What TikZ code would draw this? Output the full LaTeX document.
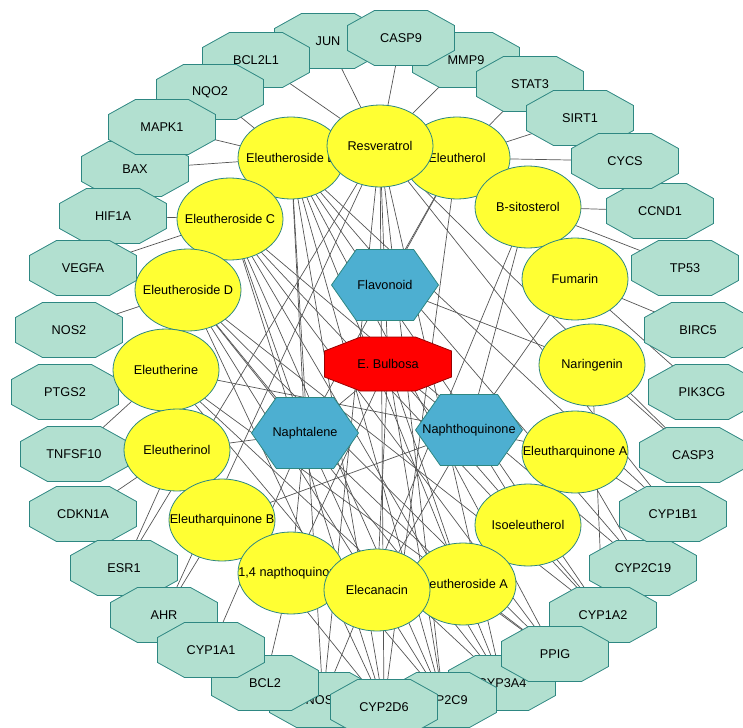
\documentclass[tikz,border=0pt]{standalone}
\usepackage{fontspec}
\setmainfont{Liberation Sans}
\usetikzlibrary{shapes.geometric, shapes.symbols, backgrounds}

\definecolor{targetfill}{RGB}{178,224,208}
\definecolor{outline}{RGB}{46,135,130}
\definecolor{compfill}{RGB}{255,255,51}
\definecolor{classfill}{RGB}{77,175,209}
\definecolor{edgegray}{RGB}{85,85,85}

\newcommand{\nodetext}[1]{\makebox[0pt]{#1}}

\begin{document}
\begin{tikzpicture}[x=1pt, y=-1pt,
  font=\fontsize{12.7}{14}\selectfont,
  octagon/.style n args={4}{rectangle, inner sep=0pt, path picture={
    \filldraw[draw=#3, fill=#4, line width=0.8pt]
      ([shift={(#1+0.5pt,-0.5pt)}]path picture bounding box.north west)
      -- ([shift={(-#1-0.5pt,-0.5pt)}]path picture bounding box.north east)
      -- ([shift={(-0.5pt,-#2-0.5pt)}]path picture bounding box.north east)
      -- ([shift={(-0.5pt,#2+0.5pt)}]path picture bounding box.south east)
      -- ([shift={(-#1-0.5pt,0.5pt)}]path picture bounding box.south east)
      -- ([shift={(#1+0.5pt,0.5pt)}]path picture bounding box.south west)
      -- ([shift={(0.5pt,#2+0.5pt)}]path picture bounding box.south west)
      -- ([shift={(0.5pt,-#2-0.5pt)}]path picture bounding box.north west) -- cycle;}},
  target/.style={octagon={27pt}{15pt}{outline}{targetfill}, minimum width=108pt, minimum height=56pt},
  plant/.style={octagon={36pt}{14pt}{red!60!black}{red}, minimum width=128pt, minimum height=55pt},
  compound/.style={ellipse, minimum width=106pt, minimum height=82pt, inner sep=0pt,
    draw=outline, fill=compfill, line width=0.8pt},
  chemclass/.style={signal, signal to=east and west, signal pointer angle=110,
    minimum width=107pt, minimum height=71pt, inner sep=0pt, draw=outline, fill=classfill, line width=0.8pt},
  link/.style={draw=edgegray, line width=0.7pt}]

\useasboundingbox (0,0) rectangle (743,727);

% Outer ring of targets
\node[target] (jun) at (328,41) {\nodetext{JUN}};
\node[target] (bcl2l1) at (256,60) {\nodetext{BCL2L1}};
\node[target] (nqo2) at (210,92) {\nodetext{NQO2}};
\node[target] (bax) at (135,169) {\nodetext{BAX}};
\node[target] (mapk1) at (162,127) {\nodetext{MAPK1}};
\node[target] (hif1a) at (113,216) {\nodetext{HIF1A}};
\node[target] (vegfa) at (83,268) {\nodetext{VEGFA}};
\node[target] (nos2) at (69,330) {\nodetext{NOS2}};
\node[target] (ptgs2) at (65,392) {\nodetext{PTGS2}};
\node[target] (tnfsf10) at (74,454) {\nodetext{TNFSF10}};
\node[target] (cdkn1a) at (83,514) {\nodetext{CDKN1A}};
\node[target] (esr1) at (124,568) {\nodetext{ESR1}};
\node[target] (ahr) at (164,615) {\nodetext{AHR}};
\node[target] (nos3) at (323,700) {\nodetext{NOS3}};
\node[target] (bcl2) at (265,683) {\nodetext{BCL2}};
\node[target] (cyp1a1) at (211,650) {\nodetext{CYP1A1}};
\node[target] (cyp3a4) at (502,683) {\nodetext{CYP3A4}};
\node[target] (cyp2c9) at (443,700) {\nodetext{CYP2C9}};
\node[target] (cyp2d6) at (384,707) {\nodetext{CYP2D6}};
\node[target] (cyp2c19) at (643,568) {\nodetext{CYP2C19}};
\node[target] (cyp1a2) at (603,615) {\nodetext{CYP1A2}};
\node[target] (ppig) at (555,654) {\nodetext{PPIG}};
\node[target] (cyp1b1) at (673,514) {\nodetext{CYP1B1}};
\node[target] (casp3) at (693,455) {\nodetext{CASP3}};
\node[target] (pik3cg) at (702,392) {\nodetext{PIK3CG}};
\node[target] (birc5) at (698,330) {\nodetext{BIRC5}};
\node[target] (tp53) at (685,268) {\nodetext{TP53}};
\node[target] (ccnd1) at (660,211) {\nodetext{CCND1}};
\node[target] (mmp9) at (466,60) {\nodetext{MMP9}};
\node[target] (stat3) at (530,84) {\nodetext{STAT3}};
\node[target] (sirt1) at (580,118) {\nodetext{SIRT1}};
\node[target] (cycs) at (625,161) {\nodetext{CYCS}};
\node[target] (casp9) at (401,38) {\nodetext{CASP9}};

% Compounds
\node[compound] (elB) at (291,158) {\nodetext{Eleutheroside B}};
\node[compound] (elr) at (457,158) {\nodetext{Eleutherol}};
\node[compound] (res) at (380,146) {\nodetext{Resveratrol}};
\node[compound] (elC) at (230,219) {\nodetext{Eleutheroside C}};
\node[compound] (bsit) at (528,207) {\nodetext{B-sitosterol}};
\node[compound] (elD) at (188,290) {\nodetext{Eleutheroside D}};
\node[compound] (fum) at (575,279) {\nodetext{Fumarin}};
\node[compound] (eline) at (166,370) {\nodetext{Eleutherine}};
\node[compound] (nar) at (592,365) {\nodetext{Naringenin}};
\node[compound] (elnol) at (177,450) {\nodetext{Eleutherinol}};
\node[compound] (eqA) at (575,452) {\nodetext{Eleutharquinone A}};
\node[compound] (eqB) at (222,520) {\nodetext{Eleutharquinone B}};
\node[compound] (iso) at (528,525) {\nodetext{Isoeleutherol}};
\node[compound] (nq14) at (291,573) {\nodetext{1,4 napthoquinone}};
\node[compound] (elA) at (463,584) {\nodetext{Eleutheroside A}};
\node[compound] (elec) at (377,590) {\nodetext{Elecanacin}};

% Classes and the plant
\node[chemclass] (flav) at (385,285) {\nodetext{Flavonoid}};
\node[chemclass] (napl) at (305,433) {\nodetext{Naphtalene}};
\node[chemclass] (napq) at (469,430) {\nodetext{Naphthoquinone}};
\node[plant] (ebul) at (388,364) {\nodetext{E. Bulbosa}};

% Links behind the nodes, centre to centre
\begin{scope}[on background layer]
\foreach \a/\b in {res/bcl2l1, res/jun, res/casp9, res/mmp9, elB/nqo2, elB/mapk1, elB/bax,
    elr/stat3, elr/sirt1, elr/cycs, bsit/ccnd1, bsit/tp53, elC/hif1a, elC/vegfa, elD/nos2,
    eline/ptgs2, eline/tnfsf10, elnol/cdkn1a, elnol/esr1, eqB/ahr, fum/birc5, fum/pik3cg,
    nar/casp3, eqA/cyp1b1, eqA/cyp2c19, iso/cyp1a2, nq14/bcl2, napl/cyp1a1}
  \draw[link] (\a.center) -- (\b.center);
\foreach \a/\b in {res/nos3, res/cyp2d6, res/cyp2c9, res/cyp3a4, res/ahr, res/esr1, res/cyp1b1,
    res/casp3, res/flav, elB/cyp2d6, elB/cyp2c9, elB/cyp3a4, elB/ppig, elB/cyp1a2, elB/cyp2c19,
    elB/nos3, elB/napl, elB/cyp1b1, elC/cyp2d6, elC/cyp2c9, elC/cyp3a4, elC/ppig, elC/cyp1a2,
    elC/napl, elC/cyp2c19, elD/cyp2d6, elD/cyp2c9, elD/cyp3a4, elD/ppig, elD/napl, elD/cyp1a2,
    eline/cyp2c9, eline/cyp3a4, eline/napq, eline/ppig, elnol/napl, elnol/cyp2d6,
    elr/flav, elr/napl, elr/cyp2d6, bsit/napq, bsit/nos3}
  \draw[link] (\a.center) -- (\b.center);
\foreach \a/\b in {fum/napq, nar/flav, nar/cyp1a2, eqA/napq, eqB/napq, iso/napq, nq14/napl,
    elec/napq, elec/napl, elA/napl, elA/ppig, ebul/flav, ebul/napl, ebul/napq, ebul/elec,
    ebul/elA, ebul/iso, ebul/nq14, ebul/cyp2c9}
  \draw[link] (\a.center) -- (\b.center);
\end{scope}

\end{tikzpicture}
\end{document}
